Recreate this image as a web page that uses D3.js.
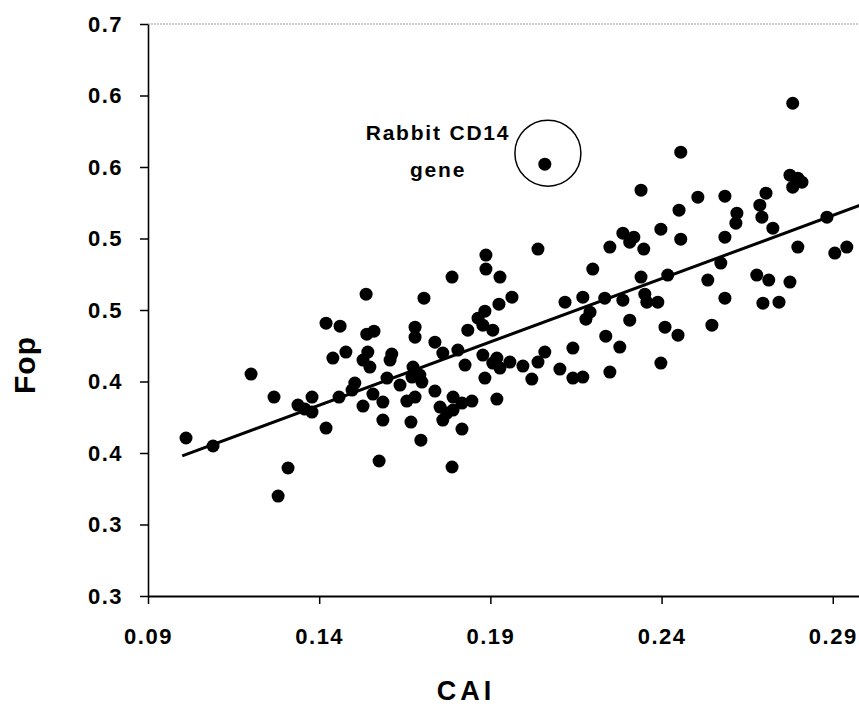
<html>
<head>
    <title>Fop vs CAI</title>
    <script type="text/javascript" src="https://cdn.jsdelivr.net/npm/d3@7/dist/d3.min.js"></script>
    <style>
        body { margin: 0; background: #fff; }
        text { font-family: "Liberation Sans", Arial, sans-serif; font-weight: bold; fill: #000; }
    </style>
</head>
<body>

<div id="chart-container"></div>

<script type="text/javascript">

    // Codon adaptation index (x) and frequency of optimal codons (y) per gene
    var caiValues = [
        0.1011, 0.1090, 0.1201, 0.1268, 0.1309, 0.1280, 0.1338, 0.1358, 0.1379, 0.1379,
        0.1420, 0.1420, 0.1461, 0.1440, 0.1478, 0.1458, 0.1496, 0.1504, 0.1528, 0.1537,
        0.1539, 0.1560, 0.1542, 0.1528, 0.1548, 0.1557, 0.1586, 0.1586, 0.1575, 0.1598,
        0.1612, 0.1607, 0.1636, 0.1656, 0.1680, 0.1668, 0.1697, 0.1680, 0.1680, 0.1706,
        0.1674, 0.1694, 0.1671, 0.1700, 0.1738, 0.1761, 0.1738, 0.1753, 0.1773, 0.1761,
        0.1791, 0.1791, 0.1817, 0.1846, 0.1817, 0.1788, 0.1788, 0.1805, 0.1826, 0.1834,
        0.1864, 0.1884, 0.1878, 0.1907, 0.1887, 0.1887, 0.1928, 0.1925, 0.1884, 0.1919,
        0.1878, 0.1907, 0.1928, 0.1957, 0.1919, 0.1995, 0.2021, 0.2059, 0.2039, 0.1963,
        0.2039, 0.2059, 0.2103, 0.2141, 0.2170, 0.2141, 0.2118, 0.2170, 0.2179, 0.2191,
        0.2199, 0.2234, 0.2237, 0.2249, 0.2249, 0.2278, 0.2287, 0.2307, 0.2287, 0.2319,
        0.2307, 0.2340, 0.2340, 0.2348, 0.2351, 0.2357, 0.2389, 0.2398, 0.2398, 0.2410,
        0.2418, 0.2448, 0.2451, 0.2456, 0.2456, 0.2506, 0.2535, 0.2547, 0.2573, 0.2585,
        0.2585, 0.2585, 0.2620, 0.2617, 0.2678, 0.2687, 0.2705, 0.2693, 0.2725, 0.2696,
        0.2713, 0.2743, 0.2775, 0.2798, 0.2810, 0.2783, 0.2783, 0.2775, 0.2798, 0.2883,
        0.2906, 0.2941
    ];
    var fopValues = [
        0.4105, 0.4049, 0.4552, 0.4391, 0.3895, 0.3699, 0.4335, 0.4307, 0.4391, 0.4286,
        0.4174, 0.4908, 0.4887, 0.4664, 0.4706, 0.4391, 0.4440, 0.4489, 0.4328, 0.5111,
        0.4831, 0.4852, 0.4706, 0.4650, 0.4601, 0.4412, 0.4356, 0.4230, 0.3944, 0.4524,
        0.4692, 0.4650, 0.4475, 0.4363, 0.4391, 0.4216, 0.4090, 0.4880, 0.4810, 0.5083,
        0.4601, 0.4545, 0.4531, 0.4496, 0.4775, 0.4699, 0.4433, 0.4321, 0.4279, 0.4230,
        0.4391, 0.4300, 0.4349, 0.4363, 0.4167, 0.3902, 0.5230, 0.4720, 0.4615, 0.4859,
        0.4943, 0.4992, 0.4894, 0.4859, 0.5384, 0.5286, 0.5230, 0.5041, 0.4524, 0.4377,
        0.4685, 0.4629, 0.4594, 0.4636, 0.4664, 0.4608, 0.4517, 0.4706, 0.4636, 0.5090,
        0.5426, 0.6020, 0.4587, 0.4524, 0.4531, 0.4734, 0.5055, 0.5090, 0.4936, 0.4985,
        0.5286, 0.5083, 0.4817, 0.4566, 0.5440, 0.4741, 0.5069, 0.4929, 0.5537, 0.5509,
        0.5474, 0.5838, 0.5230, 0.5426, 0.5111, 0.5055, 0.5055, 0.5565, 0.4629, 0.4880,
        0.5244, 0.4824, 0.5698, 0.6104, 0.5495, 0.5789, 0.5209, 0.4894, 0.5328, 0.5796,
        0.5509, 0.5083, 0.5677, 0.5607, 0.5244, 0.5733, 0.5817, 0.5649, 0.5572, 0.5048,
        0.5209, 0.5055, 0.5943, 0.5922, 0.5894, 0.5859, 0.6446, 0.5195, 0.5440, 0.5649,
        0.5398, 0.5440
    ];

    // Least squares line, two end points
    var trendCai = [0.100, 0.300];
    var trendFop = [0.398, 0.575];

    // Circled gene
    var markedCai = 0.2068;
    var markedFop = 0.6097;
    var markedLabel = ["Rabbit CD14", "gene"];

    // Axis ticks as printed (one decimal, so labels repeat)
    var xTickValues = [0.09, 0.14, 0.19, 0.24, 0.29];
    var xTickLabels = ["0.09", "0.14", "0.19", "0.24", "0.29"];
    var yTickValues = [0.30, 0.35, 0.40, 0.45, 0.50, 0.55, 0.60, 0.65, 0.70];
    var yTickLabels = ["0.3", "0.3", "0.4", "0.4", "0.5", "0.5", "0.6", "0.6", "0.7"];

    var points = caiValues.map(function (c, i) { return {cai: c, fop: fopValues[i]}; });

    var WIDTH = 859, HEIGHT = 706;

    var canvas = d3.select("#chart-container").append("svg")
        .attr("width", WIDTH)
        .attr("height", HEIGHT);

    var x = d3.scaleLinear().domain([0.09, 0.30]).range([148, 867]);
    var y = d3.scaleLinear().domain([0.30, 0.70]).range([596, 24]);

    // Grey frame line on top
    canvas.append("line")
        .attr("x1", x(0.09)).attr("x2", x(0.30))
        .attr("y1", y(0.70)).attr("y2", y(0.70))
        .attr("stroke", "#9a9a9a")
        .attr("stroke-width", 1.2)
        .attr("stroke-dasharray", "2,1");

    // Y axis
    var yAxis = canvas.append("g")
        .attr("transform", "translate(" + x(0.09) + ",0)")
        .call(d3.axisLeft(y)
            .tickValues(yTickValues)
            .tickFormat(function (d, i) { return yTickLabels[i]; })
            .tickSize(8)
            .tickSizeOuter(0)
            .tickPadding(17));
    yAxis.select(".domain").attr("stroke-width", 1.6);
    yAxis.selectAll(".tick line").attr("stroke-width", 1.5);
    yAxis.selectAll("text")
        .attr("font-size", 22)
        .attr("letter-spacing", 1.5)
        .attr("font-family", null);

    // X axis
    var xAxis = canvas.append("g")
        .attr("transform", "translate(0," + y(0.30) + ")")
        .call(d3.axisBottom(x)
            .tickValues(xTickValues)
            .tickFormat(function (d, i) { return xTickLabels[i]; })
            .tickSize(8)
            .tickSizeOuter(0)
            .tickPadding(24));
    xAxis.select(".domain").attr("stroke-width", 2);
    xAxis.selectAll(".tick line").attr("stroke-width", 1.5);
    xAxis.selectAll("text")
        .attr("font-size", 22)
        .attr("letter-spacing", 1.5)
        .attr("font-family", null);

    // Axis titles
    canvas.append("text")
        .attr("x", 466)
        .attr("y", 700)
        .attr("text-anchor", "middle")
        .attr("font-size", 27)
        .attr("letter-spacing", 4)
        .text("CAI");

    canvas.append("text")
        .attr("transform", "translate(35,365) rotate(-90)")
        .attr("text-anchor", "middle")
        .attr("font-size", 30)
        .attr("letter-spacing", 1)
        .text("Fop");

    // Regression line
    canvas.append("line")
        .attr("x1", x(trendCai[0])).attr("y1", y(trendFop[0]))
        .attr("x2", x(trendCai[1])).attr("y2", y(trendFop[1]))
        .attr("stroke", "black")
        .attr("stroke-width", 3);

    // Dots
    canvas.selectAll("circle.dot")
        .data(points)
        .enter()
        .append("circle")
        .attr("class", "dot")
        .attr("cx", function (d) { return x(d.cai); })
        .attr("cy", function (d) { return y(d.fop); })
        .attr("r", 6.5)
        .attr("fill", "black");

    // Annotation ring and label
    canvas.append("circle")
        .attr("cx", x(markedCai))
        .attr("cy", y(markedFop))
        .attr("r", 33)
        .attr("fill", "none")
        .attr("stroke", "black")
        .attr("stroke-width", 1.5);

    canvas.selectAll("text.note")
        .data(markedLabel)
        .enter()
        .append("text")
        .attr("class", "note")
        .attr("x", 438)
        .attr("y", function (d, i) { return 140 + i * 37; })
        .attr("text-anchor", "middle")
        .attr("font-size", 21)
        .attr("letter-spacing", 1.8)
        .text(function (d) { return d; });

</script>

</body>
</html>
